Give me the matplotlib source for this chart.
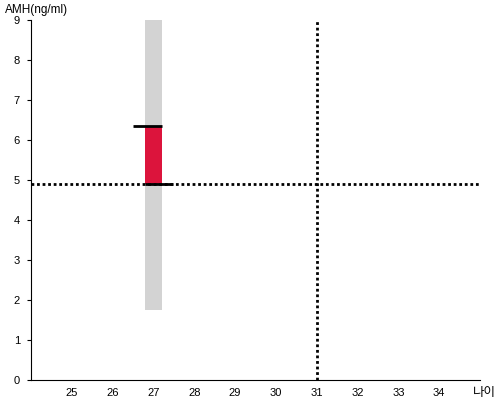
import matplotlib.pyplot as plt

# data
age = 27
range_low, range_high = 1.75, 9.0      # gray reference range
amh_low, amh_high = 4.9, 6.34          # red band
ref_age = 31
ref_amh = 4.9
xticks = [25, 26, 27, 28, 29, 30, 31, 32, 33, 34]
yticks = [0, 1, 2, 3, 4, 5, 6, 7, 8, 9]

plt.rcParams['font.family'] = ['Liberation Sans', 'Noto Sans CJK KR']

fig = plt.figure(figsize=(5, 4), dpi=100)
ax = fig.add_axes([0.062, 0.05, 0.898, 0.9])

ax.bar(age, range_high - range_low, bottom=range_low, width=0.4, color='#d3d3d3', zorder=1)
ax.bar(age, amh_high - amh_low, bottom=amh_low, width=0.4, color='#dc143c', zorder=2)
ax.hlines(amh_high, age - 0.5, age + 0.2, color='black', linewidth=2, zorder=3)
ax.hlines(amh_low, age - 0.2, age + 0.47, color='black', linewidth=2, zorder=3)

ax.axhline(ref_amh, color='black', linewidth=2, linestyle=(0, (1, 1)), zorder=2.5)
ax.axvline(ref_age, color='black', linewidth=2, linestyle=(0, (1, 1)), zorder=2.5)

ax.set_xlim(24, 35)
ax.set_ylim(0, 9)
ax.set_xticks(xticks)
ax.set_yticks(yticks)
ax.tick_params(axis='x', length=0, labelsize=8, pad=6)
ax.tick_params(axis='y', length=3, labelsize=8, pad=5)
for s in ['top', 'right']:
    ax.spines[s].set_visible(False)

fig.text(0.01, 0.975, 'AMH(ng/ml)', fontsize=8.5, ha='left', va='center')
fig.text(0.945, 0.018, '나이', fontsize=9, ha='left', va='center',
         family=['Noto Sans CJK KR', 'DejaVu Sans'])

fig.savefig('out.png', dpi=100)
